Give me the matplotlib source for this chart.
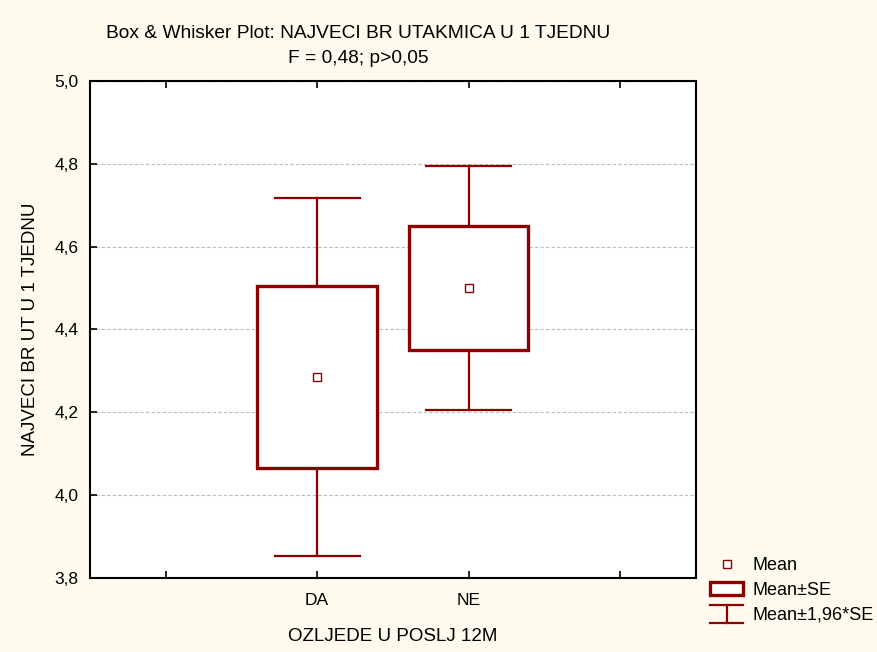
import matplotlib
matplotlib.use("Agg")
import matplotlib.pyplot as plt
from matplotlib.patches import Rectangle
from matplotlib.lines import Line2D
from matplotlib.legend_handler import HandlerBase

# data
groups = ["DA", "NE"]
means = [4.285, 4.50]
se_low = [4.065, 4.35]
se_high = [4.505, 4.65]
ci_low = [3.852, 4.205]
ci_high = [4.718, 4.795]
y_ticks = [3.8, 4.0, 4.2, 4.4, 4.6, 4.8, 5.0]

DARK_RED = "#8B0000"
BG = "#FFF9EE"

plt.rcParams["font.family"] = ["Liberation Sans", "DejaVu Sans"]


class WhiskerHandler(HandlerBase):
    def create_artists(self, legend, orig_handle, xdescent, ydescent,
                       width, height, fontsize, trans):
        x0, x1 = -xdescent, -xdescent + width
        xm = (x0 + x1) / 2
        y0, y1 = -ydescent - 0.3 * height, -ydescent + 1.15 * height
        kw = dict(color=DARK_RED, lw=1.6, transform=trans)
        return [Line2D([x0, x1], [y0, y0], **kw),
                Line2D([x0, x1], [y1, y1], **kw),
                Line2D([xm, xm], [y0, y1], **kw)]


fig = plt.figure(figsize=(8.78, 6.52), dpi=100, facecolor=BG)
ax = fig.add_axes([0.1025, 0.1135, 0.69, 0.7623])
ax.set_facecolor("white")

pos = [1.5, 2.5]
box_w = 0.79
cap_w = 0.56
for x, m, lo, hi, clo, chi in zip(pos, means, se_low, se_high, ci_low, ci_high):
    ax.plot([x, x], [clo, lo], color=DARK_RED, lw=1.6, zorder=3)
    ax.plot([x, x], [hi, chi], color=DARK_RED, lw=1.6, zorder=3)
    ax.plot([x - cap_w / 2, x + cap_w / 2], [clo, clo], color=DARK_RED, lw=1.6, zorder=3)
    ax.plot([x - cap_w / 2, x + cap_w / 2], [chi, chi], color=DARK_RED, lw=1.6, zorder=3)
    ax.add_patch(Rectangle((x - box_w / 2, lo), box_w, hi - lo, facecolor="white",
                           edgecolor=DARK_RED, lw=2.4, zorder=4))
    ax.plot([x], [m], marker="s", ms=6, mfc="white", mec=DARK_RED, mew=1.0,
            ls="none", zorder=5)

ax.set_xlim(0, 4)
ax.set_ylim(3.8, 5.0)
ax.set_xticks([0.5, 1.5, 2.5, 3.5])
ax.set_xticklabels(["", "DA", "NE", ""])
ax.set_yticks(y_ticks)
ax.set_yticklabels([f"{v:.1f}".replace(".", ",") for v in y_ticks])
ax.tick_params(axis="x", direction="in", top=True, length=5, width=1.2,
               labelsize=12.5, pad=11)
ax.tick_params(axis="y", direction="in", length=5, width=1.2, labelsize=12.5, pad=8.5)
for s in ax.spines.values():
    s.set_linewidth(1.5)
ax.yaxis.grid(True, color="#BBBBBB", ls=(0, (3, 2)), lw=0.8)
ax.set_axisbelow(True)

ax.set_xlabel("OZLJEDE U POSLJ 12M", fontsize=13.5, labelpad=14)
ax.set_ylabel("NAJVECI BR UT U 1 TJEDNU", fontsize=13.5, labelpad=11)

fig.text(0.408, 0.948, "Box & Whisker Plot: NAJVECI BR UTAKMICA U 1 TJEDNU",
         ha="center", va="center", fontsize=13.8)
fig.text(0.408, 0.910, "F = 0,48; p>0,05", ha="center", va="center",
         fontsize=13.8)

h_mean = Line2D([], [], marker="s", ms=6, mfc="white", mec=DARK_RED, mew=1.0, ls="none")
h_box = Rectangle((0, 0), 1, 1, facecolor="white", edgecolor=DARK_RED, lw=2.4)
h_whisk = object()
leg = fig.legend([h_mean, h_box, h_whisk], ["Mean", "Mean±SE", "Mean±1,96*SE"],
                 handler_map={object: WhiskerHandler()},
                 loc="upper left", bbox_to_anchor=(0.8087, 0.145),
                 frameon=False, fontsize=13.0, handlelength=1.85,
                 handletextpad=0.5, labelspacing=0.42, borderaxespad=0,
                 borderpad=0)

fig.savefig("out.png", dpi=100, facecolor=BG)
